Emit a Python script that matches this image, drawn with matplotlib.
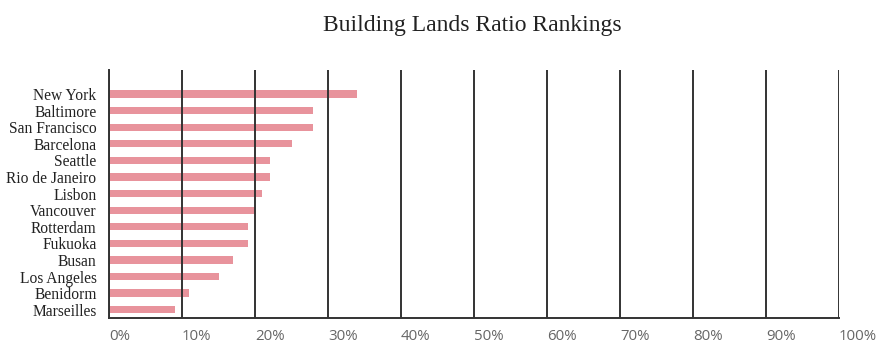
import matplotlib
matplotlib.use("Agg")
import matplotlib.pyplot as plt
from matplotlib.ticker import FuncFormatter, MultipleLocator

# Building land ratio per city (%)
cities = ["New York", "Baltimore", "San Francisco", "Barcelona", "Seattle",
          "Rio de Janeiro", "Lisbon", "Vancouver", "Rotterdam", "Fukuoka",
          "Busan", "Los Angeles", "Benidorm", "Marseilles"]
ratios = [34, 28, 28, 25, 22, 22, 21, 20, 19, 19, 17, 15, 11, 9]
title = "Building Lands Ratio Rankings"

fig = plt.figure(figsize=(8.77, 3.43), dpi=100)
ax = fig.add_axes([0.1243, 0.0729, 0.8324, 0.7230])

positions = list(range(len(cities)))
ax.barh(positions, ratios, height=0.44, color="#E8939C", zorder=1)

ax.set_xlim(0, 100)
ax.set_ylim(len(cities) - 0.5, -1.45)
ax.xaxis.set_major_locator(MultipleLocator(10))
ax.xaxis.set_major_formatter(FuncFormatter(lambda v, _: f"{v:.0f}%"))

ax.set_yticks(positions)
ax.set_yticklabels(cities, family="Liberation Serif", fontsize=11.2, color="#222222")
ax.tick_params(axis="y", length=0, pad=9)
ax.tick_params(axis="x", length=0, pad=8, labelsize=10.8, labelcolor="#666666")
for lbl in ax.get_xticklabels():
    lbl.set_family("Open Sans")
    lbl.set_horizontalalignment("left")

ax.grid(axis="x", color="#333333", linewidth=1.4)
ax.set_axisbelow(False)
for side in ("top", "right"):
    ax.spines[side].set_visible(False)
for side in ("left", "bottom"):
    ax.spines[side].set_color("#333333")
    ax.spines[side].set_linewidth(1.4)

fig.text(0.539, 0.927, title, ha="center", va="center",
         family="Liberation Serif", fontsize=17, color="#222222")

fig.savefig("out.png", dpi=100)
